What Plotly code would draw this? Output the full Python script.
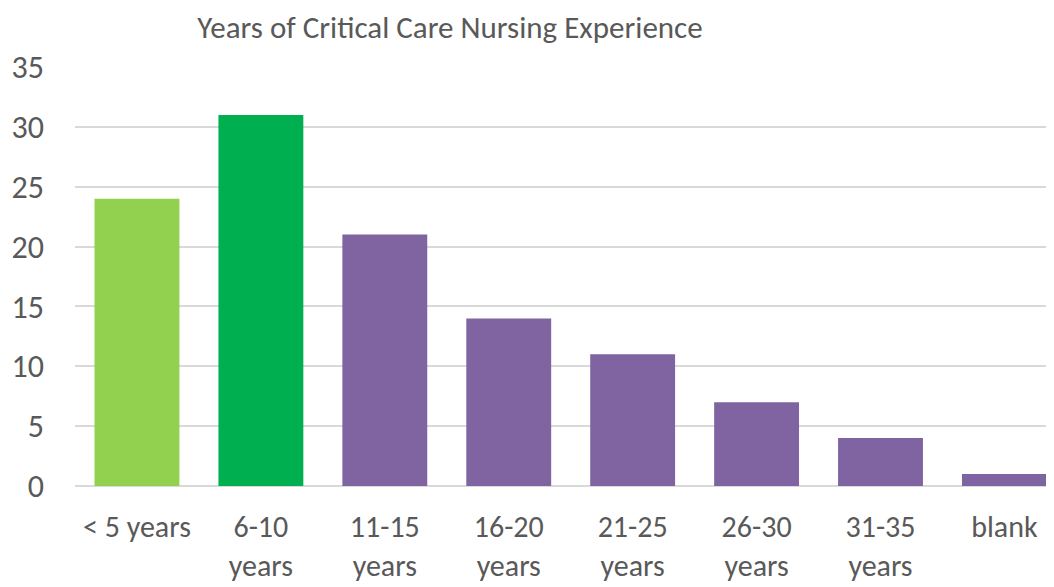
import plotly.graph_objects as go

categories = ["< 5 years", "6-10<br>years", "11-15<br>years", "16-20<br>years",
              "21-25<br>years", "26-30<br>years", "31-35<br>years", "blank"]
values = [24, 31, 21, 14, 11, 7, 4, 1]
colors = ["#92D050", "#00B050", "#8064A2", "#8064A2", "#8064A2", "#8064A2", "#8064A2", "#8064A2"]
y_ticks = [0, 5, 10, 15, 20, 25, 30, 35]
title = "Years of Critical Care Nursing Experience"

FONT = "Carlito, Calibri, Lato, sans-serif"
GRAY = "#595959"
W, H = 1046, 579  # page body has an 8px margin

fig = go.Figure(go.Bar(x=categories, y=values, marker=dict(color=colors, line=dict(width=0)),
                       hoverinfo="x+y"))

fig.update_layout(
    width=W, height=H,
    margin=dict(l=67, r=0, t=59, b=101),
    paper_bgcolor="white", plot_bgcolor="white",
    bargap=0.315,
    showlegend=False,
    font=dict(family=FONT, color=GRAY, size=32),
    title=dict(text=title, x=(450 - 8) / W, xref="container", xanchor="center",
               y=1 - (27 - 8) / H, yref="container", yanchor="middle",
               font=dict(family=FONT, size=31, color=GRAY)),
)
fig.update_xaxes(range=[-0.5, 7.40], showgrid=False, showline=False, zeroline=False,
                 ticks="", tickfont=dict(size=30, color=GRAY), ticklabelstandoff=20,
                 automargin=False, fixedrange=True)
fig.update_yaxes(range=[0, 35], tickvals=y_ticks, showgrid=True, gridcolor="#D9D9D9",
                 gridwidth=2, zeroline=True, zerolinecolor="#D9D9D9", zerolinewidth=2,
                 showline=False, ticks="", tickfont=dict(size=32, color=GRAY),
                 ticklabelstandoff=30, automargin=False, fixedrange=True)

fig.write_html("out.html")
